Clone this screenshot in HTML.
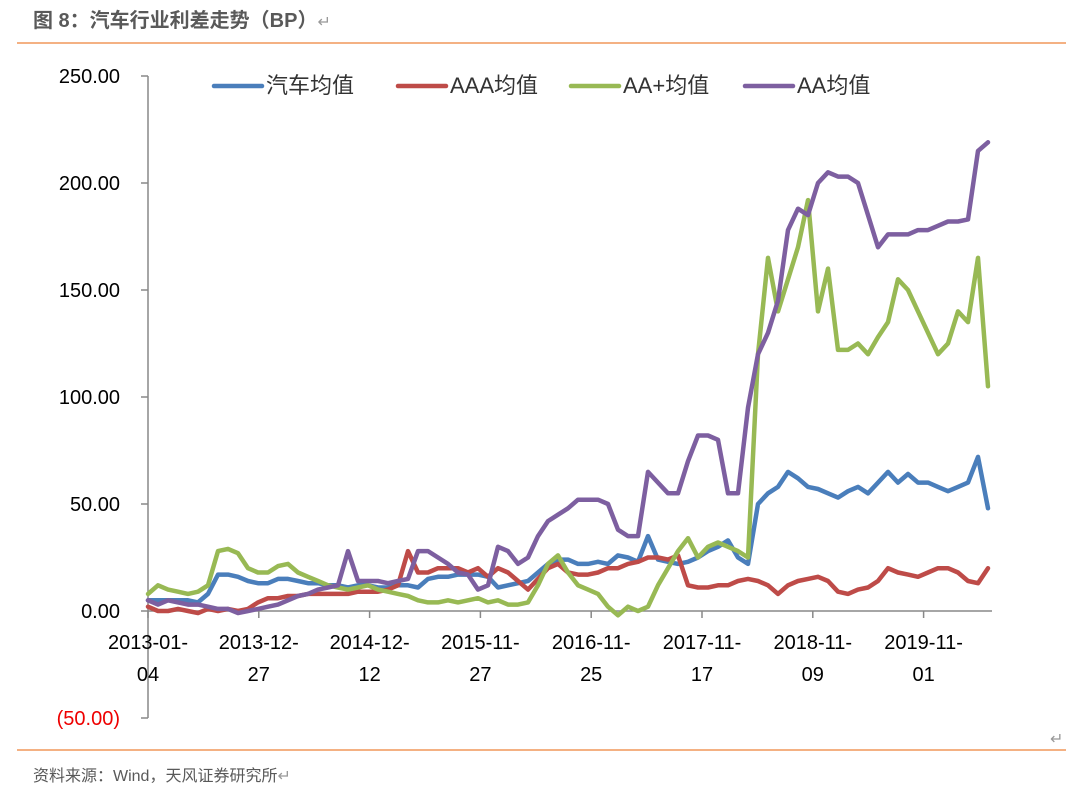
<!DOCTYPE html>
<html><head><meta charset="utf-8"><style>
body{margin:0;background:#fff;width:1080px;height:788px;overflow:hidden;font-family:"Liberation Sans","Noto Sans CJK SC",sans-serif}
</style></head><body>
<svg width="1080" height="788" xmlns="http://www.w3.org/2000/svg" font-family="Liberation Sans, Noto Sans CJK SC, sans-serif">
<text x="33" y="27" font-size="20" font-weight="bold" fill="#595959">图 8：汽车行业利差走势（BP）<tspan font-weight="normal" fill="#999" font-size="16">↵</tspan></text>
<line x1="17" y1="43" x2="1066" y2="43" stroke="#f4b183" stroke-width="2"/>
<line x1="17" y1="750" x2="1066" y2="750" stroke="#f4b183" stroke-width="2"/>
<text x="1050" y="744" font-size="16" fill="#999">↵</text>
<text x="33" y="781" font-size="16" fill="#595959">资料来源：Wind，天风证券研究所<tspan fill="#999">↵</tspan></text>
<g id="axes"></g>
<g id="series"></g>
<g id="legend"></g>
</svg>
<script>
const yTicks=[250,200,150,100,50,0,-50];
const yTickLabels=["250.00","200.00","150.00","100.00","50.00","0.00","(50.00)"];
const xTickLine1=["2013-01-","2013-12-","2014-12-","2015-11-","2016-11-","2017-11-","2018-11-","2019-11-"];
const xTickLine2=["04","27","12","27","25","17","09","01"];
const seriesNames=["汽车均值","AAA均值","AA+均值","AA均值"];
const seriesColors=["#4a7ebb","#be4b48","#98b954","#7d5fa0"];
const autoAvg=[5,5,5,5,5,4,8,17,17,16,14,13,13,15,15,14,13,13,12,12,11,12,12,11,11,12,12,11,15,16,16,17,17,17,16,11,12,13,14,18,22,24,24,22,22,23,22,26,25,23,35,24,23,22,23,25,28,30,33,25,22,50,55,58,65,62,58,57,55,53,56,58,55,60,65,60,64,60,60,58,56,58,60,72,48];
const aaaAvg=[2,0,0,1,0,-1,1,0,1,0,1,4,6,6,7,7,8,8,8,8,8,9,9,9,10,12,28,18,18,20,20,20,18,20,16,20,18,14,10,15,20,22,18,17,17,18,20,20,22,23,25,25,24,26,12,11,11,12,12,14,15,14,12,8,12,14,15,16,14,9,8,10,11,14,20,18,17,16,18,20,20,18,14,13,20];
const aaPlusAvg=[8,12,10,9,8,9,12,28,29,27,20,18,18,21,22,18,16,14,12,11,10,11,12,10,9,8,7,5,4,4,5,4,5,6,4,5,3,3,4,12,22,26,18,12,10,8,2,-2,2,0,2,12,20,28,34,25,30,32,30,28,25,120,165,140,155,170,192,140,160,122,122,125,120,128,135,155,150,140,130,120,125,140,135,165,105];
const aaAvg=[5,3,5,4,3,3,2,1,1,-1,0,1,2,3,5,7,8,10,11,12,28,14,14,14,13,14,15,28,28,25,22,18,17,10,12,30,28,22,25,35,42,45,48,52,52,52,50,38,35,35,65,60,55,55,70,82,82,80,55,55,95,120,130,145,178,188,185,200,205,203,203,200,185,170,176,176,176,178,178,180,182,182,183,215,219];
const allSeries=[autoAvg,aaaAvg,aaPlusAvg,aaAvg];
const X0=148,Y0=611,PX_PER_UNIT=2.14,STEP=10,TICKGAP=110.8;
function yScale(v){return Y0-v*PX_PER_UNIT;}
function xScale(i){return X0+i*STEP;}
const NS="http://www.w3.org/2000/svg";
function mk(tag,attrs,parent){const e=document.createElementNS(NS,tag);for(const k in attrs)e.setAttribute(k,attrs[k]);parent.appendChild(e);return e;}
const axes=document.getElementById('axes');
const ya=mk('line',{x1:X0,y1:yScale(250),x2:X0,y2:yScale(-50),stroke:'#888','stroke-width':1.5},axes);


yTicks.forEach((v,i)=>{
  const t=mk('line',{x1:X0-7,y1:yScale(v),x2:X0,y2:yScale(v),stroke:'#888','stroke-width':1.5},axes);
  
  
  const l=mk('text',{x:120,y:yScale(v)+7,'text-anchor':'end','font-size':20,fill:v<0?'#e00':'#000'},axes);
  l.textContent=yTickLabels[i];
  
  
});
const xa=mk('line',{x1:X0,y1:Y0,x2:992,y2:Y0,stroke:'#888','stroke-width':1.5},axes);


xTickLine1.forEach((s,i)=>{
  const x=X0+i*TICKGAP;
  const t=mk('line',{x1:x,y1:Y0,x2:x,y2:Y0+7,stroke:'#888','stroke-width':1.5},axes);
  
  
  const l=mk('text',{x:x,y:649,'text-anchor':'middle','font-size':20,fill:'#000'},axes);
  l.textContent=s;
  
  
  const l2=mk('text',{x:x,y:681,'text-anchor':'middle','font-size':20,fill:'#000'},axes);
  l2.textContent=xTickLine2[i];
  
  
});
const sg=document.getElementById('series');
allSeries.forEach((arr,si)=>{
  const d=arr.map((v,i)=>(i?'L':'M')+xScale(i).toFixed(1)+','+yScale(v).toFixed(1)).join(' ');
  const p=mk('path',{d:d,fill:'none',stroke:seriesColors[si],'stroke-width':4.5,'stroke-linejoin':'round','stroke-linecap':'round'},sg);
  
  
});
const lg=document.getElementById('legend');
const lx=[214,398,571,745];
seriesNames.forEach((n,i)=>{
  const g=mk('g',{},lg);
  
  
  mk('line',{x1:lx[i],y1:86,x2:lx[i]+48,y2:86,stroke:seriesColors[i],'stroke-width':4.5,'stroke-linecap':'round'},g);
  const t=mk('text',{x:lx[i]+52,y:93,'font-size':22,fill:'#333'},g);
  t.textContent=n;
});
</script>
</body></html>
